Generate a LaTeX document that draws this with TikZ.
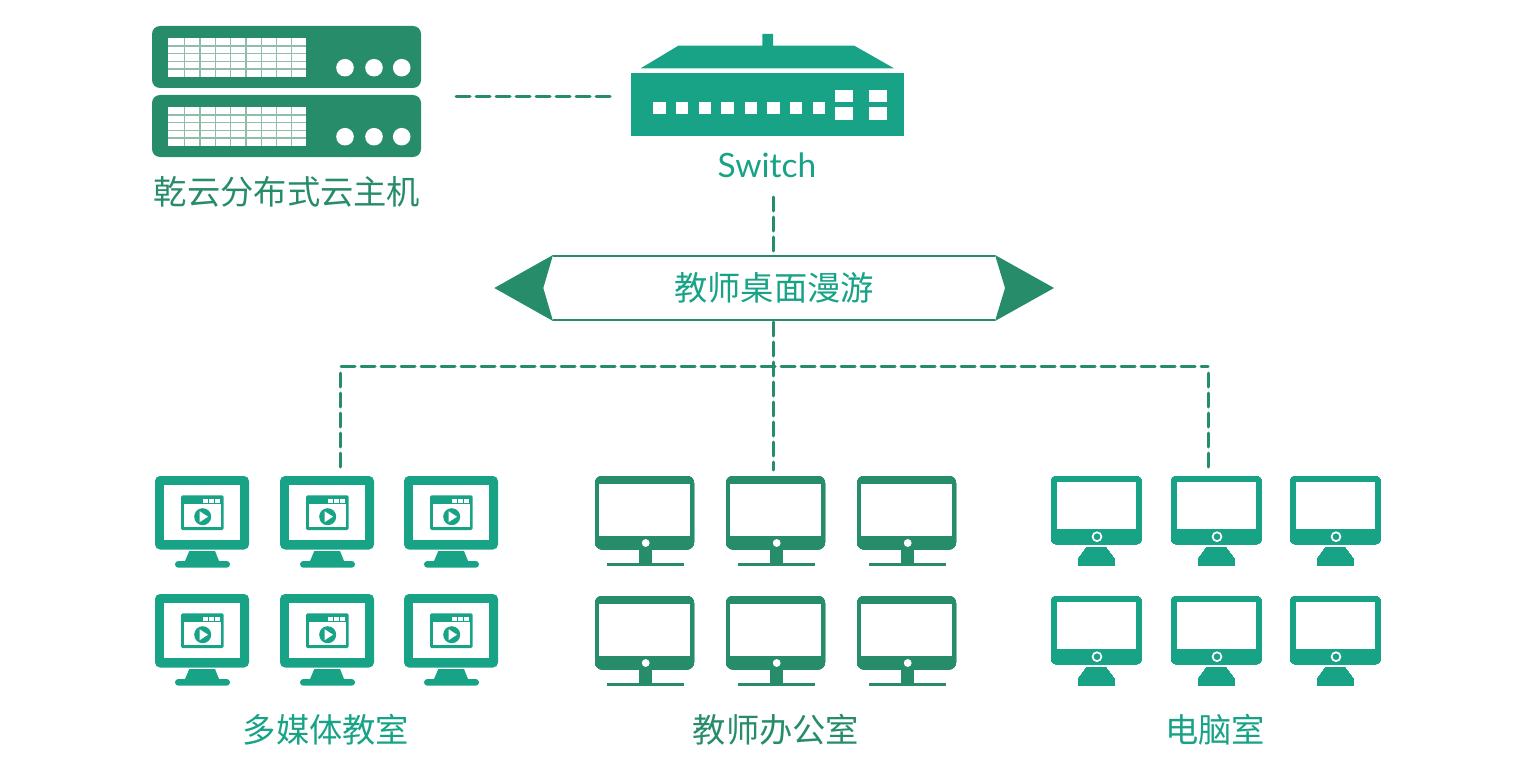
\documentclass[tikz,border=0pt]{standalone}
\usepackage{fontspec}
\setmainfont{Noto Sans CJK SC}
\newfontfamily\latinfont{Lato}
\definecolor{tealmain}{HTML}{18A387}
\definecolor{greendark}{HTML}{268C69}
\definecolor{gridline}{HTML}{8FBDAA}
\tikzset{
	caption/.style={inner sep=0pt, font=\fontsize{33.3}{33.3}\selectfont},
	link/.style={draw=greendark, line width=3pt, line cap=round, dash pattern=on 14pt off 6pt},
}
% Rack unit of the host
\newcommand{\hostunit}[1]{
	\begin{scope}[shift={(152,#1)}]
		\fill[greendark, rounded corners=8pt] (0,0) rectangle (269,62);
		\fill[white] (16,12.3) rectangle (154,50.7);
		\foreach \gx in {32.3,48,63.3,78.7,94,109.7,124.7,139.7}
			\draw[gridline, line width=1.3pt] (\gx,12.3) -- (\gx,50.7);
		\foreach \gy in {20,27.7,35.3,43}
			\draw[gridline, line width=1.5pt] (16,\gy) -- (154,\gy);
		\foreach \cx in {193,222,249.7}
			\fill[white] (\cx,41.7) circle (8.8);
	\end{scope}
}
% Screen with the player window
\newcommand{\mediascreen}[2]{
	\begin{scope}[shift={(#1,#2)}]
		\fill[tealmain, rounded corners=5pt] (0,0) rectangle (94,73.5);
		\fill[white] (9,9) rectangle (85,64.3);
		\fill[tealmain] (34.3,75) -- (60,75) -- (64,85) -- (30,85) -- cycle;
		\fill[tealmain, rounded corners=3.3pt] (20,85) rectangle (75,91.7);
		\fill[tealmain, rounded corners=1.5pt] (26,19.3) rectangle (68.7,54);
		\fill[white] (28.8,28.3) rectangle (65.9,51.2);
		\foreach \sx in {48,54,60}
			\fill[white] (\sx,23) rectangle +(4.5,4);
		\fill[tealmain] (47.7,40.7) circle (8.5);
		\fill[white] (44.7,35.3) -- (53,40.7) -- (44.7,46.1) -- cycle;
	\end{scope}
}
% Screen on a flat foot
\newcommand{\officescreen}[2]{
	\begin{scope}[shift={(#1,#2)}]
		\fill[greendark, rounded corners=7pt] (0,0) rectangle (99,73.5);
		\fill[white] (4.3,8) rectangle (95,60);
		\fill[white] (50.7,67) circle (3.9);
		\fill[greendark] (44.3,73) rectangle (57,87);
		\fill[greendark] (12.3,87) rectangle (89,89.7);
	\end{scope}
}
% Screen on a block foot
\newcommand{\labscreen}[2]{
	\begin{scope}[shift={(#1,#2)}]
		\fill[tealmain, rounded corners=6pt] (0,0) rectangle (90.7,68.3);
		\fill[white] (6.3,6.3) rectangle (85,53.3);
		\draw[white, fill=tealmain, line width=1.7pt] (46,60.7) circle (4.4);
		\fill[tealmain] (35.7,71.3) -- (54.7,71.3) -- (63.7,83.3) -- (63.7,89.7) -- (27,89.7) -- (27,83.3) -- cycle;
	\end{scope}
}

\begin{document}
\begin{tikzpicture}[x=1pt, y=-1pt]
	\useasboundingbox (0,0) rectangle (1520,757);
	% Captions
	\node[caption, text=greendark] (hostlabel) at (287,191.5) {乾云分布式云主机};
	\node[caption, text=tealmain, font=\latinfont\fontsize{33.5}{33.5}\selectfont] (switchlabel) at (767,165) {Switch};
	\node[caption, text=tealmain, minimum width=442pt, minimum height=64pt] (banner) at (774,288) {教师桌面漫游};
	\node[caption, text=tealmain] (medialabel) at (326,730) {多媒体教室};
	\node[caption, text=greendark] (officelabel) at (776,730) {教师办公室};
	\node[caption, text=tealmain] (lablabel) at (1215,730) {电脑室};
	% Hosts
	\hostunit{26}
	\hostunit{95}
	% Switch
	\fill[tealmain] (640.7,68.3) -- (678.3,45.7) -- (762.3,45.7) -- (762.3,34) -- (773,34) -- (773,45.7) -- (854.3,45.7) -- (894,68.3) -- cycle;
	\fill[tealmain] (631,73.3) rectangle (904,135.7);
	\foreach \px in {653.3,676,698.7,721.3,745,767.3,790,812.7}
		\fill[white] (\px,101.7) rectangle +(12.3,12.3);
	\foreach \px in {835.3,869.3}
		\foreach \py in {89.7,107.3}
			\fill[white] (\px,\py) rectangle +(18,12.4);
	% Banner
	\draw[greendark, line width=2pt] (banner.north west) -- (banner.north east);
	\draw[greendark, line width=2pt] (banner.south west) -- (banner.south east);
	\fill[greendark] (553,255) -- (494.3,288) -- (553,321) -- (543.3,288) -- cycle;
	\fill[greendark] (995,255) -- (1054,288) -- (995,321) -- (1005,288) -- cycle;
	% Screen groups
	\foreach \sy in {476,594} \foreach \sx in {155,280,404} \mediascreen{\sx}{\sy}
	\foreach \sy in {476,596} \foreach \sx in {595,726,857} \officescreen{\sx}{\sy}
	\foreach \sy in {476,596} \foreach \sx in {1051,1171,1290} \labscreen{\sx}{\sy}
	% Links
	\coordinate (hostport) at (456,97);
	\coordinate (switchport) at (610,97);
	\coordinate (switchfoot) at (773.7,197);
	\coordinate (bannertop) at (773.7,252);
	\coordinate (bannerfoot) at (773.7,322);
	\coordinate (mediatap) at (340.7,373);
	\coordinate (mediaend) at (340.7,469);
	\coordinate (officeend) at (773.7,470);
	\coordinate (labtap) at (1208,373);
	\coordinate (labend) at (1208,469);
	\coordinate (busleft) at (341,366);
	\coordinate (busright) at (1208,366);
	\draw[link] (hostport) -- (switchport);
	\draw[link] (switchfoot) -- (bannertop);
	\draw[link] (bannerfoot) -- (officeend);
	\draw[link] (busleft) -- (busright);
	\draw[link] (mediatap) -- (mediaend);
	\draw[link] (labtap) -- (labend);
\end{tikzpicture}
\end{document}
